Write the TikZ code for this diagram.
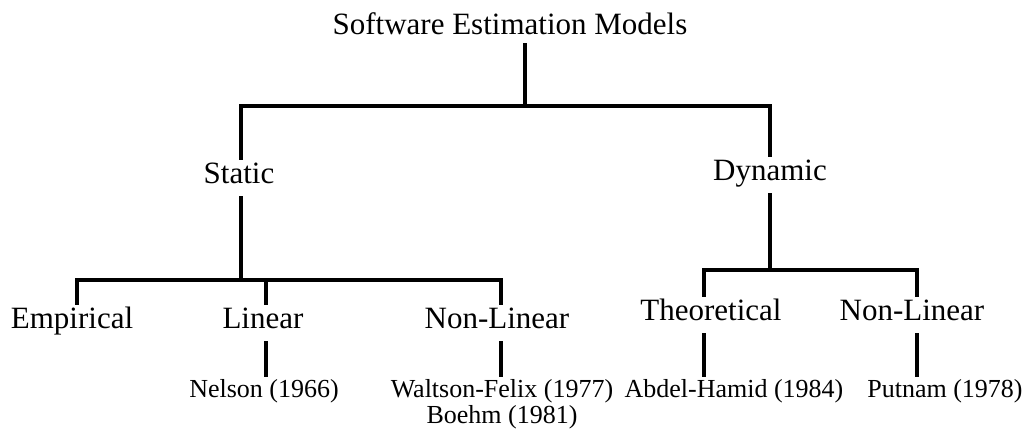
\documentclass[tikz,border=0pt]{standalone}
\usepackage{fontspec}
\setmainfont{Liberation Serif}
\usetikzlibrary{positioning}

\begin{document}
\begin{tikzpicture}[x=1pt, y=-1pt,
    rootlabel/.style={font=\fontsize{31}{36}\selectfont, inner sep=0pt, text height=23pt, text depth=8pt, anchor=base},
    classlabel/.style={font=\fontsize{31}{36}\selectfont, inner sep=0pt, text height=23pt, text depth=13pt, anchor=base},
    modellabel/.style={font=\fontsize{26}{26}\selectfont, inner sep=0pt, text height=20pt, text depth=6pt, anchor=base},
    branch/.style={line width=3.2pt}]
	% --- Frame ---
	\useasboundingbox (0,0) rectangle (1026,436);
	
	% --- Junctions ---
	\coordinate (jTop) at (525,106);
	\coordinate (statTop) at (241,106);
	\coordinate (dynTop) at (770,106);
	\coordinate (jS) at (241,280);
	\coordinate (empTop) at (77,280);
	\coordinate (linTop) at (266,280);
	\coordinate (nlsTop) at (501,280);
	\coordinate (jD) at (770,270);
	\coordinate (theoTop) at (704,270);
	\coordinate (nlrTop) at (917,270);
	
	% --- Labels ---
	\node[rootlabel] (title) at (510,35) {Software Estimation Models};
	
	\node[classlabel] (static) at (239,183) {Static};
	\node[classlabel] (dyn) at (770,180) {Dynamic};
	
	\node[classlabel] (emp) at (72,328) {Empirical};
	\node[classlabel] (lin) at (263,328) {Linear};
	\node[classlabel] (nls) at (497,328) {Non-Linear};
	\node[classlabel] (theo) at (711,320) {Theoretical};
	\node[classlabel] (nlr) at (912,320) {Non-Linear};
	
	\node[modellabel] (nel) at (264,397) {Nelson (1966)};
	\node[modellabel] (walt) at (502,397) {Waltson-Felix (1977)};
	\node[modellabel, below=0pt of walt] (boe) {Boehm (1981)};
	\node[modellabel] (abd) at (734,397) {Abdel-Hamid (1984)};
	\node[modellabel] (put) at (945,397) {Putnam (1978)};
	
	% --- Branches ---
	\draw[branch] (jTop |- title.south) -- (jTop);
	\draw[branch] (statTop |- static.north) -- (statTop) -- (dynTop) -- (dynTop |- dyn.north);
	
	\draw[branch] (jS |- static.south) -- (jS);
	\draw[branch] (empTop |- emp.north) -- (empTop) -- (nlsTop) -- (nlsTop |- nls.north);
	\draw[branch] (linTop) -- (linTop |- lin.north);
	
	\draw[branch] (jD |- dyn.south) -- (jD);
	\draw[branch] (theoTop |- theo.north) -- (theoTop) -- (nlrTop) -- (nlrTop |- nlr.north);
	
	% --- Leaves ---
	\draw[branch] (linTop |- lin.south) -- (linTop |- nel.north);
	\draw[branch] (nlsTop |- nls.south) -- (nlsTop |- walt.north);
	\draw[branch] (theoTop |- theo.south) -- (theoTop |- abd.north);
	\draw[branch] (nlrTop |- nlr.south) -- (nlrTop |- put.north);
	
\end{tikzpicture}
\end{document}
